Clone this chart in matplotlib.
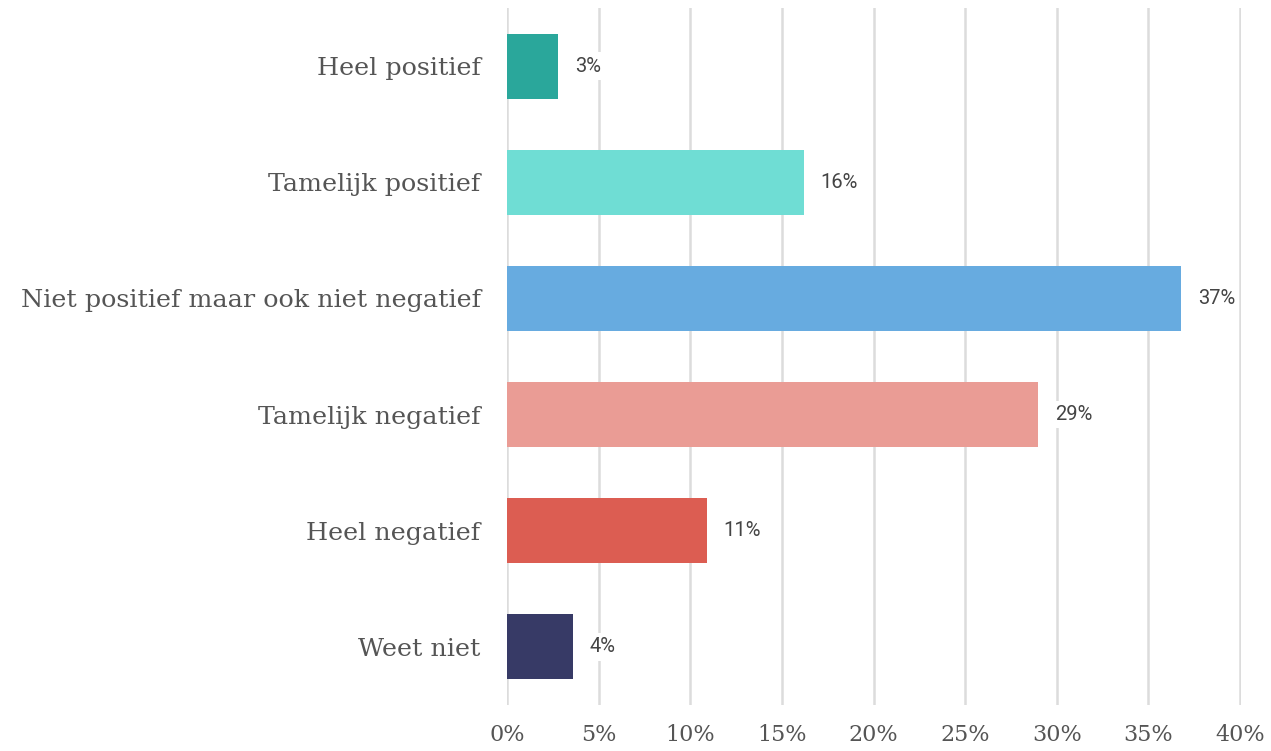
import matplotlib.pyplot as plt
import numpy as np

categories = ['Heel positief', 'Tamelijk positief', 'Niet positief maar ook niet negatief',
              'Tamelijk negatief', 'Heel negatief', 'Weet niet']
values = [2.8, 16.2, 36.8, 29.0, 10.9, 3.6]
labels = ['3%', '16%', '37%', '29%', '11%', '4%']
colors = ['#2aa79b', '#6fddd4', '#67abe0', '#ea9c95', '#dc5d52', '#373a66']
xticks = [0, 5, 10, 15, 20, 25, 30, 35, 40]

fig = plt.figure(figsize=(12.71, 7.51), dpi=100)
ax = fig.add_axes([0.3989, 0.0613, 0.5775, 0.928])

y = np.arange(len(categories))
ax.barh(y, values, height=0.56, color=colors, zorder=2)

for yi, v, lab in zip(y, values, labels):
    ax.text(v + 0.9, yi, lab, va='center', ha='left', fontsize=14.5,
            family='Roboto', color='#444444', zorder=3,
            bbox=dict(facecolor='white', edgecolor='none', pad=3))

ax.set_ylim(len(categories) - 0.5, -0.5)
ax.set_xlim(0, 40.05)
ax.set_yticks(y)
ax.set_yticklabels(categories, family='DejaVu Serif', fontsize=18.3, color='#555555')
ax.set_xticks(xticks)
ax.set_xticklabels([f'{t}%' for t in xticks], family='DejaVu Serif', fontsize=16, color='#555555')
ax.tick_params(length=0)
ax.tick_params(axis='y', pad=19)
ax.tick_params(axis='x', pad=14)
ax.xaxis.grid(True, color='#dcdcdc', linewidth=1.8, zorder=0)
ax.set_axisbelow(True)
for s in ax.spines.values():
    s.set_visible(False)

fig.savefig('out.png', dpi=100)
